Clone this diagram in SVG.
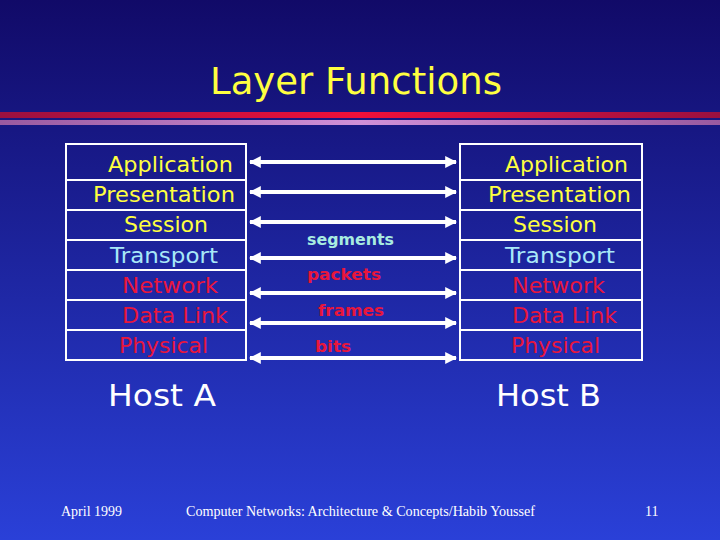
<svg xmlns="http://www.w3.org/2000/svg" width="720" height="540" viewBox="0 0 720 540">
<defs>
<linearGradient id="bg" x1="0" y1="0" x2="0" y2="1"><stop offset="0" stop-color="#110a68"/><stop offset="1" stop-color="#2a40d8"/></linearGradient>
<linearGradient id="red" x1="0" y1="0" x2="1" y2="0"><stop offset="0" stop-color="#9a1040"/><stop offset="0.5" stop-color="#f0103a"/><stop offset="1" stop-color="#9a1040"/></linearGradient>
<linearGradient id="pink" x1="0" y1="0" x2="1" y2="0"><stop offset="0" stop-color="#9a5aa0"/><stop offset="0.5" stop-color="#d090d8"/><stop offset="1" stop-color="#9a5aa0"/></linearGradient>
<marker id="ah" viewBox="0 0 10 10" refX="9" refY="5" markerWidth="3" markerHeight="3" orient="auto-start-reverse"><path d="M0,0 L10,5 L0,10 z" fill="#fff"/></marker>
</defs>
<style>
.t{font-family:"DejaVu Sans","Liberation Sans",sans-serif;font-size:22px}
.y{fill:#ffff40}.c{fill:#a8e8f8}.r{fill:#e8163c}
.lab{font-family:"DejaVu Sans",sans-serif;font-weight:bold;font-size:16px}
.box{fill:none;stroke:#fff;stroke-width:2}
.ar{stroke:#fff;stroke-width:4;marker-start:url(#ah);marker-end:url(#ah)}
.f{font-family:"Liberation Serif",serif;font-size:14px;fill:#fff}
</style>
<rect width="720" height="540" fill="url(#bg)"/>
<rect x="0" y="112" width="720" height="6" fill="url(#red)"/>
<rect x="0" y="120" width="720" height="5" fill="url(#pink)"/>
<text x="210" y="94" class="t y" style="font-size:38px" textLength="292" lengthAdjust="spacingAndGlyphs">Layer Functions</text>
<g id="hostA">
<rect class="box" x="66" y="144" width="180" height="216"/>
<path d="M66,180H246M66,210H246M66,240H246M66,270H246M66,300H246M66,330H246" stroke="#fff" stroke-width="2"/>
<text class="t y" x="108" y="172" textLength="125" lengthAdjust="spacingAndGlyphs">Application</text>
<text class="t y" x="93" y="202" textLength="142" lengthAdjust="spacingAndGlyphs">Presentation</text>
<text class="t y" x="124" y="232" textLength="84" lengthAdjust="spacingAndGlyphs">Session</text>
<text class="t c" x="110" y="263" textLength="108" lengthAdjust="spacingAndGlyphs">Transport</text>
<text class="t r" x="122" y="293" textLength="96" lengthAdjust="spacingAndGlyphs">Network</text>
<text class="t r" x="122" y="323" textLength="106" lengthAdjust="spacingAndGlyphs">Data Link</text>
<text class="t r" x="119" y="353" textLength="89" lengthAdjust="spacingAndGlyphs">Physical</text>
<text class="t" fill="#fff" x="108" y="406" style="font-size:30px" textLength="108" lengthAdjust="spacingAndGlyphs">Host A</text>
</g>
<g id="hostB">
<rect class="box" x="460" y="144" width="182" height="216"/>
<path d="M460,180H642M460,210H642M460,240H642M460,270H642M460,300H642M460,330H642" stroke="#fff" stroke-width="2"/>
<text class="t y" x="505" y="172" textLength="123" lengthAdjust="spacingAndGlyphs">Application</text>
<text class="t y" x="488" y="202" textLength="143" lengthAdjust="spacingAndGlyphs">Presentation</text>
<text class="t y" x="513" y="232" textLength="84" lengthAdjust="spacingAndGlyphs">Session</text>
<text class="t c" x="505" y="263" textLength="110" lengthAdjust="spacingAndGlyphs">Transport</text>
<text class="t r" x="512" y="293" textLength="93" lengthAdjust="spacingAndGlyphs">Network</text>
<text class="t r" x="512" y="323" textLength="105" lengthAdjust="spacingAndGlyphs">Data Link</text>
<text class="t r" x="511" y="353" textLength="89" lengthAdjust="spacingAndGlyphs">Physical</text>
<text class="t" fill="#fff" x="496" y="406" style="font-size:30px" textLength="105" lengthAdjust="spacingAndGlyphs">Host B</text>
</g>
<g id="connectors">
<line class="ar" x1="250" y1="162" x2="456" y2="162"/>
<line class="ar" x1="250" y1="192" x2="456" y2="192"/>
<line class="ar" x1="250" y1="222" x2="456" y2="222"/>
<line class="ar" x1="250" y1="258" x2="456" y2="258"/>
<line class="ar" x1="250" y1="293" x2="456" y2="293"/>
<line class="ar" x1="250" y1="323" x2="456" y2="323"/>
<line class="ar" x1="250" y1="358" x2="456" y2="358"/>
<text class="lab" fill="#a8ece0" x="307" y="245" textLength="87" lengthAdjust="spacingAndGlyphs">segments</text>
<text class="lab r" x="307" y="280" textLength="74" lengthAdjust="spacingAndGlyphs">packets</text>
<text class="lab r" x="318" y="316" textLength="66" lengthAdjust="spacingAndGlyphs">frames</text>
<text class="lab r" x="315" y="352" textLength="36" lengthAdjust="spacingAndGlyphs">bits</text>
</g>
<text class="f" x="61" y="516">April 1999</text>
<text class="f" x="186" y="516" textLength="349" lengthAdjust="spacingAndGlyphs">Computer Networks: Architecture &amp; Concepts/Habib Youssef</text>
<text class="f" x="645" y="516">11</text>
</svg>
